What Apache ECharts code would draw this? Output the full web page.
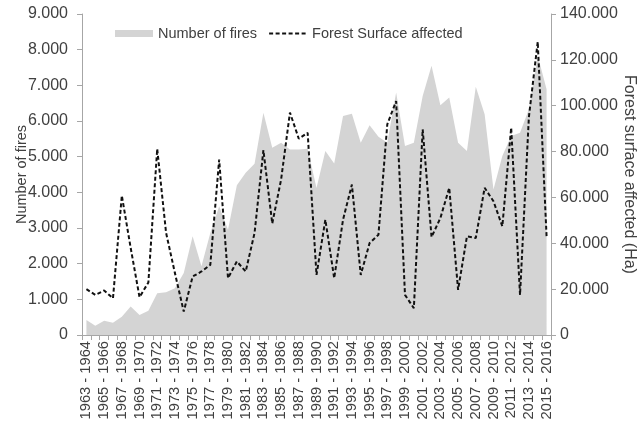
<!DOCTYPE html>
<html>
<head>
<meta charset="utf-8">
<script src="https://cdn.jsdelivr.net/npm/echarts@6/dist/echarts.min.js"></script>
<style>
  html, body { margin: 0; padding: 0; background: #ffffff; }
  #chart { width: 641px; height: 429px; }
</style>
</head>
<body>
<div id="chart"></div>
<script>
// Fire seasons, 1963-1964 through 2015-2016
const startYears = [];
for (let y = 1963; y <= 2015; y++) startYears.push(y);
const seasons = startYears.map(y => y + ' - ' + (y + 1));

// Number of fires per season
const fireCounts = [
  420, 260, 400, 340, 510, 800, 560, 680, 1170, 1200,
  1310, 1740, 2770, 1930, 2860, 3610, 2950, 4200, 4550, 4800,
  6230, 5250, 5390, 5200, 5200, 5220, 4120, 5160, 4810, 6140,
  6200, 5390, 5880, 5560, 5390, 6800, 5300, 5390, 6700, 7550,
  6440, 6660, 5390, 5160, 6960, 6190, 4080, 5020, 5580, 5670,
  6330, 7830, 6890
];

// Forest surface affected per season (Ha)
const forestArea = [
  20000, 17500, 19400, 16000, 60800, 38000, 16500, 22900, 81200, 44600,
  27000, 10200, 25500, 27700, 30600, 76500, 24800, 32100, 27700, 44500,
  80600, 48600, 67800, 97000, 85600, 88200, 26200, 50300, 24800, 50300,
  65600, 26200, 40100, 43750, 91900, 102000, 17500, 11700, 89700, 42700,
  51000, 64200, 19700, 43000, 42300, 64200, 58300, 47400, 90400, 17500,
  95000, 127900, 43000
];

const fireTicks = { min: 0, max: 9000, step: 1000 };
const areaTicks = { min: 0, max: 140000, step: 20000 };

// Thousands grouped with a dot
function dotted(v) {
  return String(Math.round(v)).replace(/\B(?=(\d{3})+(?!\d))/g, '.');
}

const textColor = '#404040';
const axisColor = '#a6a6a6';
const font = 'Liberation Sans, Arial, sans-serif';

const chart = echarts.init(document.getElementById('chart'), null, { renderer: 'canvas' });
chart.setOption({
  animation: false,
  backgroundColor: '#ffffff',
  textStyle: { fontFamily: font },
  grid: {
    left: 82, right: 90, top: 14, bottom: 94,
    containLabel: false,
    outerBoundsMode: 'none'
  },
  legend: {
    top: 21,
    left: 110,
    itemWidth: 38,
    itemHeight: 7,
    itemGap: 11,
    textStyle: { fontFamily: font, fontSize: 14.5, color: textColor },
    data: [
      { name: 'Number of fires', icon: 'rect' },
      { name: 'Forest Surface affected', itemStyle: { opacity: 0 } }
    ]
  },
  xAxis: {
    type: 'category',
    data: seasons,
    boundaryGap: true,
    axisLine: { lineStyle: { color: axisColor, width: 1 } },
    axisTick: { show: true, interval: 0, length: 5, lineStyle: { color: axisColor } },
    axisLabel: {
      interval: 1,
      rotate: 90,
      fontSize: 14.7,
      color: textColor,
      margin: 6,
      fontFamily: font
    },
    splitLine: { show: false }
  },
  yAxis: [
    {
      type: 'value',
      min: fireTicks.min,
      max: fireTicks.max,
      interval: fireTicks.step,
      name: 'Number of fires',
      nameLocation: 'middle',
      nameGap: 53,
      nameMoveOverlap: false,
      nameTextStyle: { fontSize: 14.5, color: textColor, fontFamily: font },
      axisLine: { show: true, lineStyle: { color: axisColor } },
      axisTick: { show: true, length: 5, lineStyle: { color: axisColor } },
      axisLabel: { formatter: dotted, fontSize: 16, color: textColor, margin: 14, fontFamily: font },
      splitLine: { show: false }
    },
    {
      type: 'value',
      min: areaTicks.min,
      max: areaTicks.max,
      interval: areaTicks.step,
      name: 'Forest surface affected (Ha)',
      nameLocation: 'middle',
      nameGap: 70,
      nameMoveOverlap: false,
      nameRotate: -90,
      nameTextStyle: { fontSize: 16, color: textColor, fontFamily: font },
      axisLine: { show: true, lineStyle: { color: axisColor } },
      axisTick: { show: true, length: 5, lineStyle: { color: axisColor } },
      axisLabel: { formatter: dotted, fontSize: 16, color: textColor, margin: 9, fontFamily: font },
      splitLine: { show: false }
    }
  ],
  series: [
    {
      name: 'Number of fires',
      type: 'line',
      yAxisIndex: 0,
      data: fireCounts,
      symbol: 'none',
      color: '#d4d4d4',
      lineStyle: { width: 0, color: '#d4d4d4' },
      areaStyle: { color: '#d4d4d4', opacity: 1 },
      z: 1
    },
    {
      name: 'Forest Surface affected',
      type: 'line',
      yAxisIndex: 1,
      data: forestArea,
      symbol: 'none',
      color: '#111111',
      lineStyle: { width: 2, color: '#111111', type: [4, 2.5] },
      z: 3
    }
  ]
});
</script>
</body>
</html>
